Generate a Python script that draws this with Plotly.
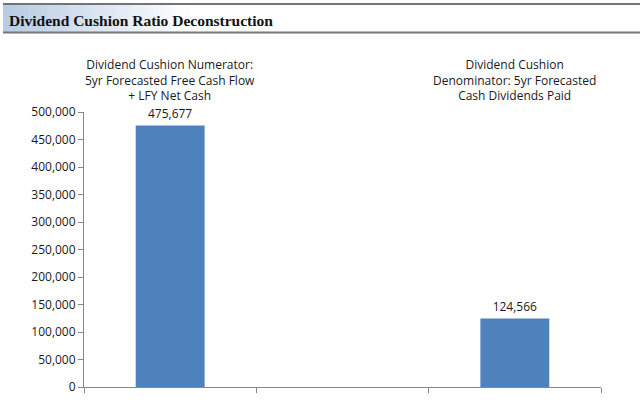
import plotly.graph_objects as go

categories = ["Dividend Cushion Numerator:<br>5yr Forecasted Free Cash Flow<br>+ LFY Net Cash",
              " ",
              "Dividend Cushion<br>Denominator: 5yr Forecasted<br>Cash Dividends Paid"]
values = [475677, None, 124566]
value_labels = ["475,677", "", "124,566"]
y_tickvals = [0, 50000, 100000, 150000, 200000, 250000, 300000, 350000, 400000, 450000, 500000]
title_text = "Dividend Cushion Ratio Deconstruction"

W, H = 640, 400
ml, mr, mt, mb = 84, 39, 112, 13

fig = go.Figure()
fig.add_trace(go.Bar(
    x=categories, y=values, width=0.4,
    marker=dict(color="#4F81BD", line=dict(width=0)),
    text=value_labels, textposition="outside",
    textfont=dict(family="Open Sans, Liberation Sans, sans-serif", size=12, color="#1a1a1a"),
    cliponaxis=False, hoverinfo="skip",
))

# category header annotations above plot
for c in categories:
    if c.strip():
        fig.add_annotation(x=c, xref="x", y=1.0, yref="paper", yshift=58,
                           text=c, showarrow=False, yanchor="top",
                           font=dict(family="Open Sans, Liberation Sans, sans-serif", size=12, color="#1a1a1a"),
                           align="center")

# title bar gradient (paper coords)
def px2x(px):
    return (px - ml) / (W - ml - mr)

def py2y(py):
    return (H - mb - py) / (H - mt - mb)

n = 30
x0p, x1p = 3, 190
c0 = (184, 204, 228)
for i in range(n):
    t = i / n
    col = tuple(int(round(c0[k] + (255 - c0[k]) * t)) for k in range(3))
    fig.add_shape(type="rect", xref="paper", yref="paper",
                  x0=px2x(x0p + (x1p - x0p) * i / n), x1=px2x(x0p + (x1p - x0p) * (i + 1) / n + 1),
                  y0=py2y(32), y1=py2y(5), line=dict(width=0),
                  fillcolor="rgb(%d,%d,%d)" % col, layer="below")
fig.add_shape(type="line", xref="paper", yref="paper", x0=px2x(3), x1=px2x(640),
              y0=py2y(4), y1=py2y(4), line=dict(color="#444444", width=1.5))
fig.add_shape(type="line", xref="paper", yref="paper", x0=px2x(3), x1=px2x(640),
              y0=py2y(32.5), y1=py2y(32.5), line=dict(color="#777777", width=2))
fig.add_annotation(x=px2x(7), y=py2y(20), xref="paper", yref="paper", text="<b>" + title_text + "</b>",
                   showarrow=False, xanchor="left", yanchor="middle",
                   font=dict(family="Liberation Serif, Times New Roman, serif", size=15.5, color="#111111"))

fig.update_layout(
    width=W, height=H, margin=dict(l=ml, r=mr, t=mt, b=mb, autoexpand=False),
    paper_bgcolor="white", plot_bgcolor="white", showlegend=False,
    bargap=0.6,
    xaxis=dict(type="category", showticklabels=False, showline=True, linecolor="#878787", linewidth=1,
               ticks="outside", tickson="boundaries", ticklen=5, tickcolor="#878787",
               showgrid=False, range=[-0.5, 2.5], fixedrange=True, automargin=False),
    yaxis=dict(range=[0, 500000], tickvals=y_tickvals, tickformat=",", showline=True,
               linecolor="#878787", linewidth=1, ticks="outside", ticklen=5, tickcolor="#878787",
               showgrid=False, zeroline=False, automargin=False,
               tickfont=dict(family="Open Sans, Liberation Sans, sans-serif", size=12, color="#1a1a1a")),
)

fig.write_html("out.html", config={"displayModeBar": False},
               post_script="document.body.style.margin='0';document.body.style.overflow='hidden';")
